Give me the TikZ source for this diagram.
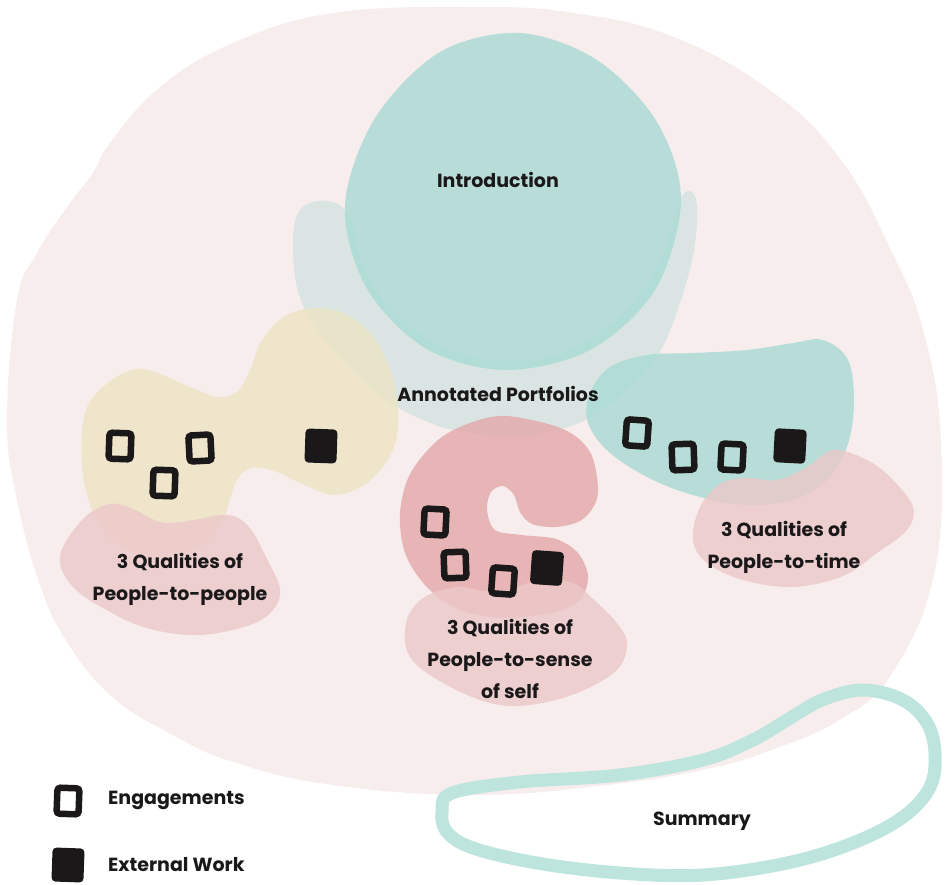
\documentclass[tikz,border=0pt]{standalone}
\usepackage{fontspec}
\setmainfont{Poppins}
\usetikzlibrary{positioning}

\definecolor{bgpink}{RGB}{248,237,237}
\definecolor{introteal}{RGB}{169,218,211}
\definecolor{portgray}{RGB}{211,227,225}
\definecolor{ppyellow}{RGB}{236,228,195}
\definecolor{qualpink}{RGB}{236,200,201}
\definecolor{selfred}{RGB}{228,167,170}
\definecolor{timeteal}{RGB}{169,218,211}
\definecolor{sumteal}{RGB}{190,228,222}
\definecolor{inkblack}{RGB}{26,24,24}

\begin{document}
\begin{tikzpicture}[
        x=1pt, y=-1pt,
        blob/.style={fill opacity=0.8, draw=none},
        txt/.style={font=\bfseries\fontsize{19}{32}\selectfont, align=center, text=inkblack, inner sep=0pt},
        engage/.style={draw=inkblack, line width=6.5pt, rounded corners=3pt, minimum width=22pt, minimum height=26pt, inner sep=0pt},
        extwork/.style={fill=inkblack, rounded corners=4pt, minimum width=32pt, minimum height=34pt, inner sep=0pt}
    ]
        \useasboundingbox (0,0) rectangle (948,884);

        % Whole project area
        \fill[bgpink] plot[smooth cycle, tension=0.7] coordinates {
            (474,7) (574,13) (674,37) (774,93) (841,160) (891,250) (924,333) (941,442)
            (934,575) (891,675) (841,719) (774,749) (707,769) (607,785) (474,795)
            (333,785) (233,762) (167,732) (110,695) (67,642) (40,585) (17,500) (7,420)
            (17,300) (37,253) (67,207) (93,173) (110,143) (160,87) (233,43) (333,13)};

        % Annotated portfolios bowl
        \fill[portgray, blob] plot[smooth cycle, tension=0.6] coordinates {
            (293,240) (300,210) (318,201) (338,204) (352,222) (362,262) (382,298) (412,328)
            (455,352) (513,361) (565,352) (610,324) (645,287) (667,242) (680,200) (690,191)
            (697,206) (694,250) (681,300) (661,350) (634,383) (591,417) (550,432) (513,437)
            (470,433) (433,424) (383,398) (333,350) (300,298)};

        % Introduction
        \fill[introteal, blob] plot[smooth cycle, tension=0.55] coordinates {
            (681,200) (657,122) (597,60) (520,33) (440,52) (375,118)
            (345,205) (366,287) (425,348) (505,370) (590,350) (655,290)};

        % People-to-people
        \fill[ppyellow, blob] plot[smooth cycle, tension=0.6] coordinates {
            (137,369) (190,387) (217,397) (237,392) (250,370) (262,340) (285,316) (315,308)
            (345,314) (372,335) (390,370) (398,410) (393,450) (368,482) (335,495) (300,483)
            (277,472) (252,468) (236,482) (222,522) (200,547) (167,557) (133,552) (103,530)
            (85,487) (82,430) (95,395)};

        % People-to-time
        \fill[timeteal, blob] plot[smooth cycle, tension=0.6] coordinates {
            (823,340) (848,360) (854,403) (847,447) (827,480) (793,500) (747,505) (700,497)
            (653,480) (610,453) (588,423) (590,393) (610,367) (647,355) (693,353) (747,350)
            (793,343)};

        % People-to-sense of self
        \fill[selfred, blob] plot[smooth cycle, tension=0.55] coordinates {
            (507,416) (563,429) (590,452) (598,487) (594,506) (580,521) (556,527) (532,524)
            (520,512) (514,495) (503,486) (491,492) (487,510) (495,530) (522,535) (556,539)
            (578,553) (588,576) (581,599) (560,611) (525,617) (490,617) (455,608) (425,585)
            (405,553) (400,513) (410,474) (438,440) (470,423)};

        % Qualities blobs
        \fill[qualpink, blob] plot[smooth cycle, tension=0.6] coordinates {
            (83,519) (110,504) (133,509) (160,522) (187,521) (227,515) (249,527) (267,559)
            (280,589) (273,610) (250,625) (200,635) (150,629) (110,612) (73,587) (60,556)};
        \fill[qualpink, blob] plot[smooth cycle, tension=0.6] coordinates {
            (457,587) (483,591) (507,590) (540,580) (573,583) (592,598) (616,622) (627,643)
            (617,670) (577,693) (530,705) (490,703) (443,683) (410,657) (406,623) (423,598)};
        \fill[qualpink, blob] plot[smooth cycle, tension=0.6] coordinates {
            (833,450) (867,460) (893,480) (913,507) (907,530) (877,553) (843,576) (793,587)
            (743,580) (707,563) (693,540) (700,507) (720,484) (747,478) (777,480) (807,467)};

        % Summary loop
        \draw[sumteal, line width=13pt] plot[smooth cycle, tension=0.6] coordinates {
            (452,793) (520,782) (620,775) (703,760) (753,740) (787,720) (822,700) (863,690)
            (903,700) (927,723) (935,753) (930,787) (903,817) (853,843) (787,863) (703,875)
            (620,873) (537,863) (473,848) (447,832) (442,812)};

        % Labels
        \node[txt] (intro) at (498,180) {Introduction};
        \node[txt] (annot) at (498,394) {Annotated Portfolios};
        \node[txt] (qpeople) at (180,579) {3 Qualities of\\People-to-people};
        \node[txt] (qself) at (510,659) {3 Qualities of\\People-to-sense\\of self};
        \node[txt] (qtime) at (784,547) {3 Qualities of\\People-to-time};
        \node[txt] (summary) at (702,821) {Summary};

        % Engagements and external work
        \node[engage, rotate=-2] (e1) at (120,446) {};
        \node[engage, rotate=3] (e2) at (200,448) {};
        \node[engage, rotate=-2] (e3) at (164,483) {};
        \node[extwork, rotate=-2] (x1) at (321,446) {};

        \node[engage, rotate=-3] (e4) at (435,522) {};
        \node[engage, rotate=2] (e5) at (455,565) {};
        \node[engage, rotate=-4] (e6) at (503,581) {};
        \node[extwork, rotate=-4] (x2) at (547,568) {};

        \node[engage, rotate=-4] (e7) at (637,433) {};
        \node[engage, rotate=2] (e8) at (683,457) {};
        \node[engage, rotate=-3] (e9) at (732,457) {};
        \node[extwork, rotate=-3] (x3) at (790,446) {};

        % Legend
        \node[engage, rotate=-2] (legeng) at (68,801) {};
        \node[txt, anchor=west] (legengtxt) at (108,800) {Engagements};
        \node[extwork, rotate=-2] (legext) at (68,865) {};
        \node[txt, anchor=west] (legexttxt) at (108,865) {External Work};
    \end{tikzpicture}
\end{document}
